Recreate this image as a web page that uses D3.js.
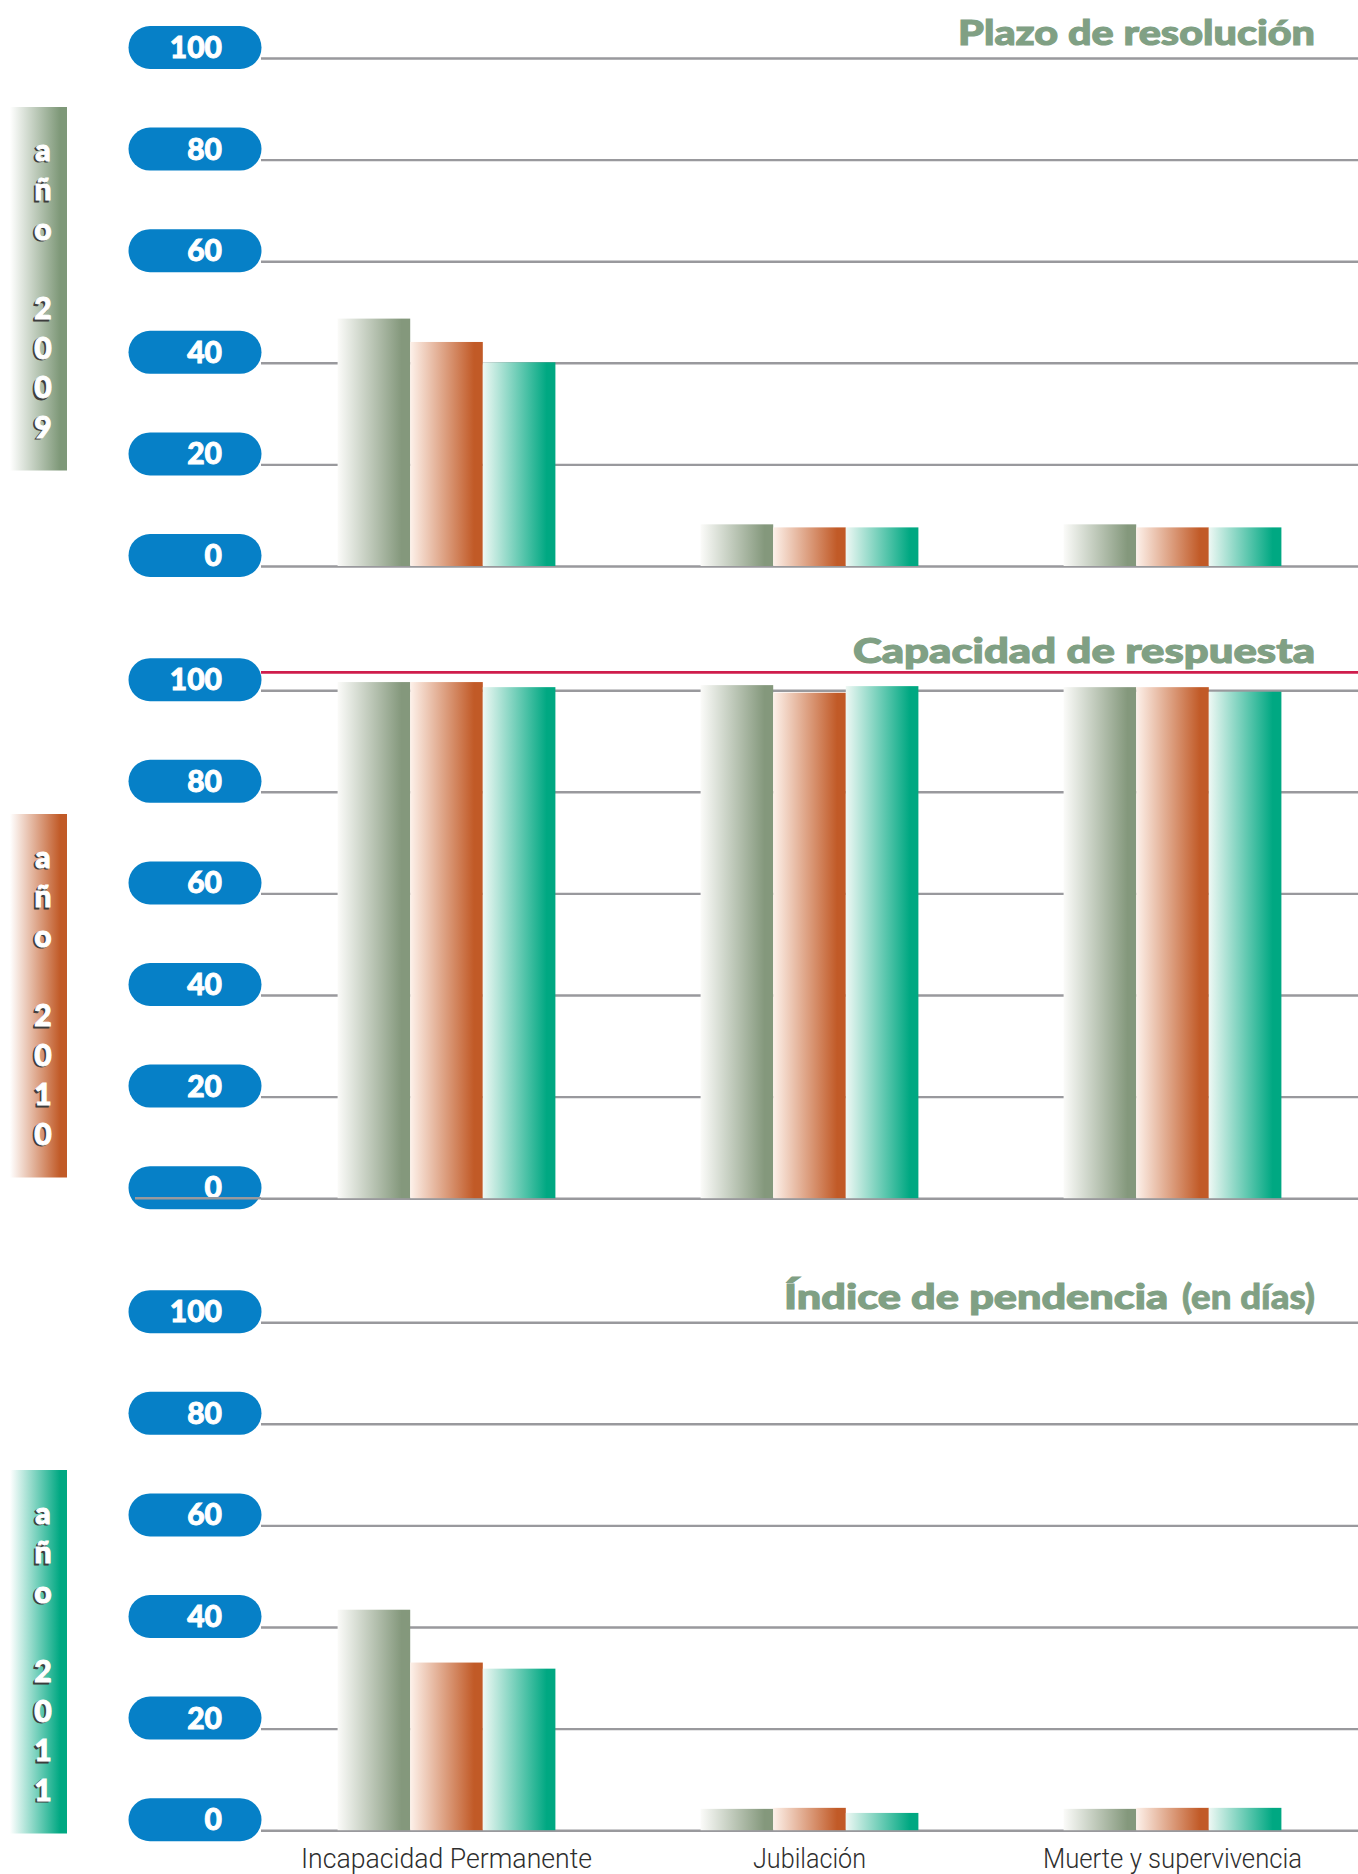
<!DOCTYPE html>
<html>
<head>
<meta charset="utf-8">
<script src="https://cdn.jsdelivr.net/npm/d3@7"></script>
<style>
  html, body { margin: 0; padding: 0; background: #ffffff; }
  svg { display: block; }
</style>
</head>
<body>
<script>
// ---------------- DATA ----------------
const categories = ["Incapacidad Permanente", "Jubilación", "Muerte y supervivencia"];
const years = ["2009", "2010", "2011"];
const yearLabels = ["año 2009", "año 2010", "año 2011"];
const ticks = [0, 20, 40, 60, 80, 100];

const panelTitles = ["Plazo de resolución", "Capacidad de respuesta", "Índice de pendencia"];
const panelTitleSuffixes = ["", "", "(en días)"];

// values per category, per year (2009, 2010, 2011)
const plazoValues = [
  [48.7, 44.1, 40.1],
  [8.2, 7.6, 7.6],
  [8.2, 7.6, 7.6]
];
const capacidadValues = [
  [101.6, 101.6, 100.6],
  [101.0, 99.5, 100.8],
  [100.6, 100.6, 99.7]
];
const pendenciaValues = [
  [43.4, 33.0, 31.8],
  [4.2, 4.4, 3.4],
  [4.2, 4.4, 4.4]
];
const capacidadReference = 103.5;

// ---------------- LAYOUT / STYLE ----------------
const W = 1358, H = 1874;
const panelZero = [566, 1198.2, 1830.2];
const plotH = 508;
const gridX0 = 261, gridX1 = 1358;
const titleRight = 1315;
const titleBaseline = [44.5, 663, 1309];
const titleWidths = [357, 462, 384];
const suffixWidth = 133;
const yearBoxTop = [107, 814, 1470];
const labelWidths = [291, 113, 259];
const seriesStops = [
  ["#fbfbf9", "#84987c"],
  ["#fdf1ea", "#c15a27"],
  ["#eef8f4", "#00a882"]
];
const boxStops = [
  ["#ffffff", "#7e9878"],
  ["#ffffff", "#c15a27"],
  ["#ffffff", "#00a882"]
];
const pillColor = "#0680c7";
const titleColor = "#80a084";
const gridColor = "#99999d";
const refColor = "#cf1d4c";
const boldFont = "Lato, 'DejaVu Sans', sans-serif";

const panels = [plazoValues, capacidadValues, pendenciaValues];

const svg = d3.select("body").append("svg")
  .attr("width", W).attr("height", H)
  .attr("viewBox", `0 0 ${W} ${H}`);

const defs = svg.append("defs");
function addGrad(id, stops) {
  const g = defs.append("linearGradient").attr("id", id)
    .attr("x1", 0).attr("x2", 1).attr("y1", 0).attr("y2", 0);
  g.append("stop").attr("offset", "0%").attr("stop-color", stops[0]);
  g.append("stop").attr("offset", "88%").attr("stop-color", stops[1]);
  g.append("stop").attr("offset", "100%").attr("stop-color", stops[1]);
}
seriesStops.forEach((s, i) => addGrad("bar" + i, s));
boxStops.forEach((s, i) => addGrad("box" + i, s));

const x0 = d3.scaleBand().domain(categories).range([265, 1354])
  .paddingInner(0.4).paddingOuter(0.2);
const x1 = d3.scaleBand().domain(years).range([0, x0.bandwidth()]).padding(0);

panels.forEach((values, p) => {
  const y = d3.scaleLinear().domain([0, 100]).range([panelZero[p], panelZero[p] - plotH]);
  const g = svg.append("g");

  // gridlines + pill tick labels via axis
  const axis = d3.axisLeft(y).tickValues(ticks).tickSize(-(gridX1 - gridX0)).tickPadding(0);
  const ag = g.append("g").attr("transform", `translate(${gridX0},0)`).call(axis);
  ag.select(".domain").remove();
  ag.selectAll(".tick line").attr("stroke", gridColor).attr("stroke-width", 2.4);
  ag.selectAll(".tick").insert("rect", "text")
    .attr("x", 128.5 - gridX0).attr("y", -32.5)
    .attr("width", 133).attr("height", 43).attr("rx", 21.5).attr("ry", 21.5)
    .attr("fill", pillColor);
  ag.selectAll(".tick text")
    .attr("x", 222 - gridX0).attr("y", -0.5).attr("dy", null)
    .attr("text-anchor", "end")
    .attr("fill", "#ffffff")
    .attr("stroke", "#ffffff").attr("stroke-width", 0.9)
    .style("font-family", boldFont)
    .style("font-weight", 900)
    .style("font-size", "30px");

  if (p === 1) {
    // zero line crossing over the pill in this panel
    g.append("line").attr("x1", 135).attr("x2", gridX0)
      .attr("y1", y(0)).attr("y2", y(0))
      .attr("stroke", gridColor).attr("stroke-width", 2.4);
    // red reference line
    g.append("line").attr("x1", gridX0).attr("x2", gridX1)
      .attr("y1", y(capacidadReference)).attr("y2", y(capacidadReference))
      .attr("stroke", refColor).attr("stroke-width", 2.6);
  }

  // bars
  const groups = g.append("g").selectAll("g").data(categories).join("g")
    .attr("transform", d => `translate(${x0(d)},0)`);
  groups.selectAll("rect").data((d, i) => values[i].map((v, j) => ({ year: years[j], v, j })))
    .join("rect")
    .attr("x", d => x1(d.year))
    .attr("y", d => y(d.v))
    .attr("width", x1.bandwidth())
    .attr("height", d => y(0) - y(d.v))
    .attr("fill", d => `url(#bar${d.j})`);

  // title
  const hasSuffix = panelTitleSuffixes[p] !== "";
  const mainRight = hasSuffix ? titleRight - suffixWidth - 14 : titleRight;
  g.append("text")
    .attr("x", mainRight).attr("y", titleBaseline[p])
    .attr("text-anchor", "end")
    .attr("textLength", titleWidths[p]).attr("lengthAdjust", "spacingAndGlyphs")
    .attr("fill", titleColor)
    .attr("stroke", titleColor).attr("stroke-width", 1.1)
    .style("font-family", boldFont)
    .style("font-weight", 900)
    .style("font-size", "35px")
    .text(panelTitles[p]);
  if (hasSuffix) {
    g.append("text")
      .attr("x", titleRight).attr("y", titleBaseline[p])
      .attr("text-anchor", "end")
      .attr("textLength", suffixWidth).attr("lengthAdjust", "spacingAndGlyphs")
      .attr("fill", titleColor)
      .attr("stroke", titleColor).attr("stroke-width", 0.8)
      .style("font-family", boldFont)
      .style("font-weight", 900)
      .style("font-size", "35px")
      .text(panelTitleSuffixes[p]);
  }

  // year box (legend)
  const yb = svg.append("g").attr("transform", `translate(10,${yearBoxTop[p]})`);
  yb.append("rect").attr("width", 57).attr("height", 363.5).attr("fill", `url(#box${p})`);
  const chars = Array.from(yearLabels[p]);
  chars.forEach((c, k) => {
    if (c === " ") return;
    const cy = 41.5 + k * 39.6;
    yb.append("text").attr("x", 33 - 1.8).attr("y", cy + 1.6)
      .attr("text-anchor", "middle").attr("dominant-baseline", "central")
      .attr("fill", "#3c3c3c").attr("stroke", "#3c3c3c").attr("stroke-width", 1)
      .style("font-family", boldFont)
      .style("font-weight", 900).style("font-size", "30px")
      .text(c);
    yb.append("text").attr("x", 33).attr("y", cy)
      .attr("text-anchor", "middle").attr("dominant-baseline", "central")
      .attr("fill", "#ffffff").attr("stroke", "#ffffff").attr("stroke-width", 1)
      .style("font-family", boldFont)
      .style("font-weight", 900).style("font-size", "30px")
      .text(c);
  });

  // category labels under the last panel
  if (p === panels.length - 1) {
    const xa = g.append("g").attr("transform", `translate(0,${panelZero[p]})`)
      .call(d3.axisBottom(x0).tickSize(0).tickPadding(0));
    xa.select(".domain").remove();
    xa.selectAll(".tick text")
      .attr("y", 37.8).attr("dy", null)
      .attr("fill", "#2e2e2e")
      .attr("textLength", (d, i) => labelWidths[i])
      .attr("lengthAdjust", "spacingAndGlyphs")
      .style("font-family", "Roboto, 'Liberation Sans Narrow', sans-serif")
      .style("font-weight", 300)
      .style("font-size", "28px");
  }
});
</script>
</body>
</html>
